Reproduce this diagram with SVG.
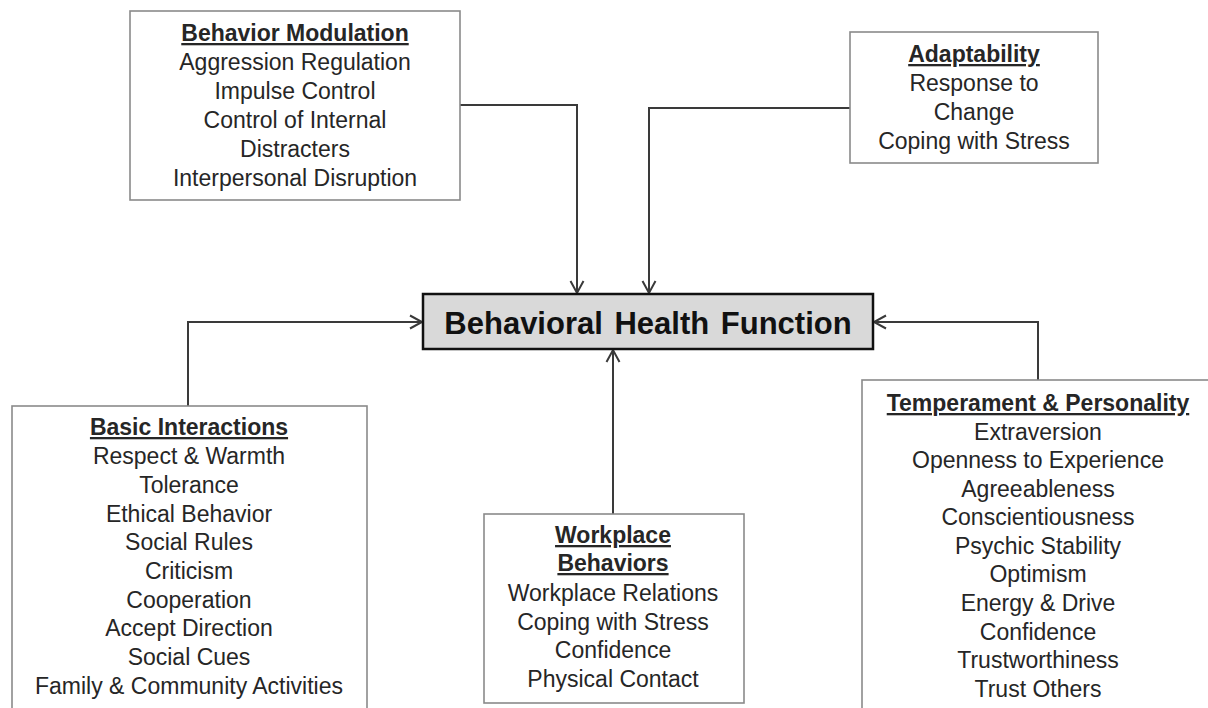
<svg xmlns="http://www.w3.org/2000/svg" width="1208" height="708" viewBox="0 0 1208 708">
<style>
.box{fill:#ffffff;stroke:#8a8a8a;stroke-width:1.6}
.t{font-family:"Liberation Sans",Arial,sans-serif;font-size:23px;fill:#262626;text-anchor:middle}
.h{font-weight:bold;text-decoration:underline}
.c{fill:none;stroke:#3a3a3a;stroke-width:2}
</style>
<defs>
<marker id="arr" markerUnits="userSpaceOnUse" markerWidth="16" markerHeight="16" refX="13" refY="7" orient="auto" viewBox="0 0 16 14">
<path d="M1,0.5 L13,7 L1,13.5" fill="none" stroke="#3a3a3a" stroke-width="2"/>
</marker>
</defs>
<rect width="1208" height="708" fill="#ffffff"/>
<g id="connectors">
<path class="c" d="M460,105 H577 V293" marker-end="url(#arr)"/>
<path class="c" d="M850,108 H649 V293" marker-end="url(#arr)"/>
<path class="c" d="M188,406 V322 H422" marker-end="url(#arr)"/>
<path class="c" d="M1038,380 V322 H874" marker-end="url(#arr)"/>
<path class="c" d="M613,514 V350" marker-end="url(#arr)"/>
</g>
<g id="behavioral-health-function">
<rect x="423" y="294" width="450" height="55" fill="#d9d9d9" stroke="#111111" stroke-width="2.5"/>
<text x="648" y="334" font-family="'Liberation Sans',Arial,sans-serif" font-size="31" font-weight="bold" fill="#111111" text-anchor="middle" word-spacing="3">Behavioral Health Function</text>
</g>
<g id="behavior-modulation">
<rect class="box" x="130" y="11" width="330" height="189"/>
<text class="t h" x="295" y="41">Behavior Modulation</text>
<text class="t" x="295" y="70">Aggression Regulation</text>
<text class="t" x="295" y="99">Impulse Control</text>
<text class="t" x="295" y="128">Control of Internal</text>
<text class="t" x="295" y="157">Distracters</text>
<text class="t" x="295" y="186">Interpersonal Disruption</text>
</g>
<g id="adaptability">
<rect class="box" x="850" y="32" width="248" height="131"/>
<text class="t h" x="974" y="62">Adaptability</text>
<text class="t" x="974" y="91">Response to</text>
<text class="t" x="974" y="120">Change</text>
<text class="t" x="974" y="149">Coping with Stress</text>
</g>
<g id="basic-interactions">
<rect class="box" x="12" y="406" width="355" height="320"/>
<text class="t h" x="189" y="435">Basic Interactions</text>
<text class="t" x="189" y="464">Respect &amp; Warmth</text>
<text class="t" x="189" y="493">Tolerance</text>
<text class="t" x="189" y="522">Ethical Behavior</text>
<text class="t" x="189" y="550">Social Rules</text>
<text class="t" x="189" y="579">Criticism</text>
<text class="t" x="189" y="608">Cooperation</text>
<text class="t" x="189" y="636">Accept Direction</text>
<text class="t" x="189" y="665">Social Cues</text>
<text class="t" x="189" y="694">Family &amp; Community Activities</text>
</g>
<g id="workplace-behaviors">
<rect class="box" x="484" y="514" width="260" height="189"/>
<text class="t h" x="613" y="543">Workplace</text>
<text class="t h" x="613" y="571">Behaviors</text>
<text class="t" x="613" y="601">Workplace Relations</text>
<text class="t" x="613" y="630">Coping with Stress</text>
<text class="t" x="613" y="658">Confidence</text>
<text class="t" x="613" y="687">Physical Contact</text>
</g>
<g id="temperament-personality">
<rect class="box" x="862" y="380" width="360" height="350"/>
<text class="t h" x="1038" y="411">Temperament &amp; Personality</text>
<text class="t" x="1038" y="440">Extraversion</text>
<text class="t" x="1038" y="468">Openness to Experience</text>
<text class="t" x="1038" y="497">Agreeableness</text>
<text class="t" x="1038" y="525">Conscientiousness</text>
<text class="t" x="1038" y="554">Psychic Stability</text>
<text class="t" x="1038" y="582">Optimism</text>
<text class="t" x="1038" y="611">Energy &amp; Drive</text>
<text class="t" x="1038" y="640">Confidence</text>
<text class="t" x="1038" y="668">Trustworthiness</text>
<text class="t" x="1038" y="697">Trust Others</text>
</g>
</svg>
